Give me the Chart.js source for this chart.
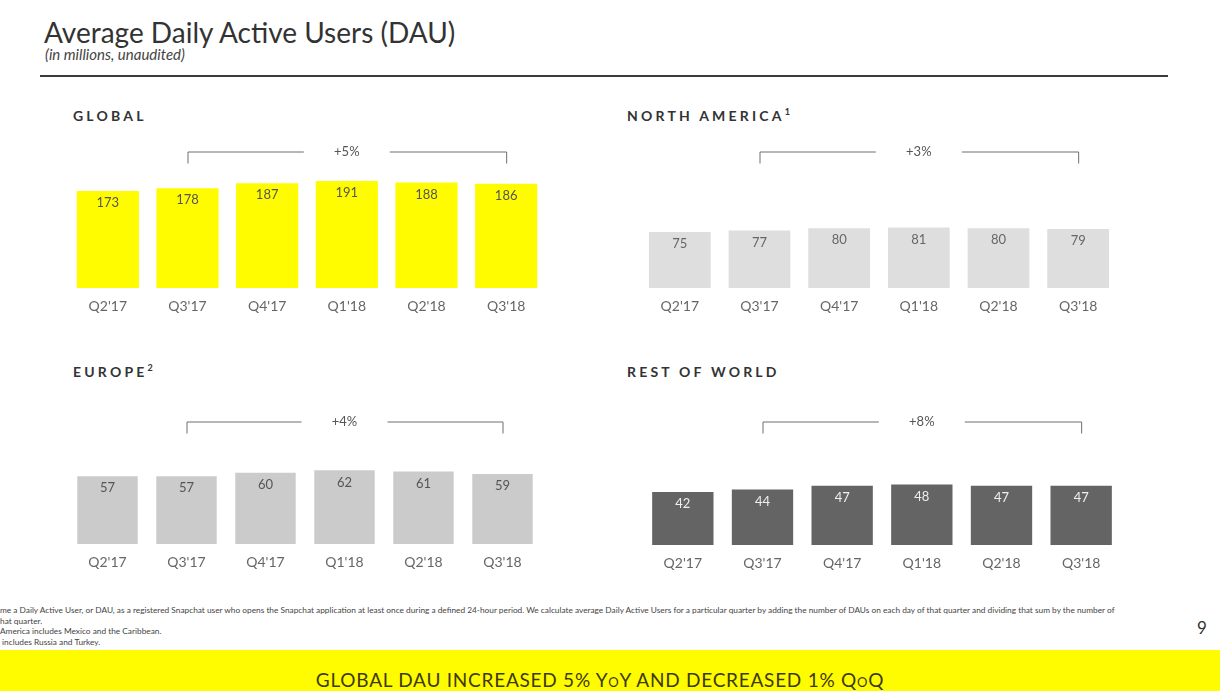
<!DOCTYPE html>
<html>
<head>
<meta charset="utf-8">
<script src="https://cdn.jsdelivr.net/npm/chart.js@4.4.1/dist/chart.umd.min.js"></script>
<style>
  html, body { margin: 0; padding: 0; background: #fff; }
  body { width: 1220px; height: 691px; position: relative; overflow: hidden; font-family: Lato, "Noto Sans", sans-serif; color: #333; }
  .abs { position: absolute; white-space: nowrap; }
  .title { left: 44px; top: 18px; font-size: 28px; line-height: 28px; color: #333; }
  .subtitle { left: 45px; top: 46px; font-size: 15px; line-height: 16px; font-style: italic; color: #444; }
  .rule { left: 40px; top: 75px; width: 1128px; height: 2px; background: #3a3a3a; }
  .section { font-size: 14px; line-height: 16px; font-weight: 700; letter-spacing: 3.2px; color: #333; }
  .section sup { font-size: 9px; letter-spacing: 0; vertical-align: 6px; line-height: 0; }
  .box { position: absolute; }
  .notes { left: 0; top: 605px; font-size: 8.3px; line-height: 10.7px; color: #444; }
  .page { left: 1197px; top: 619px; font-size: 17px; line-height: 18px; color: #333; }
  .banner { left: 0; top: 650px; width: 1220px; height: 41px; background: #FFFC00; }
  .banner span.t { position: absolute; left: 0; width: 1200px; text-align: center; top: 20px; font-size: 19px; line-height: 20px; letter-spacing: 0.75px; color: #3d3a10; }
  .sc { font-variant: small-caps; }
</style>
</head>
<body>
<div class="abs title">Average Daily Active Users (DAU)</div>
<div class="abs subtitle">(in millions, unaudited)</div>
<div class="abs rule"></div>

<div class="abs section" style="left:73px; top:108px;">GLOBAL</div>
<div class="abs section" style="left:627px; top:108px;">NORTH AMERICA<sup>1</sup></div>
<div class="abs section" style="left:73px; top:364px;">EUROPE<sup>2</sup></div>
<div class="abs section" style="left:627px; top:364px;">REST OF WORLD</div>

<div class="box" style="left:68px; top:130px; width:478px; height:188px;"><canvas id="chartGlobal"></canvas></div>
<div class="box" style="left:640px; top:130px; width:478px; height:188px;"><canvas id="chartNA"></canvas></div>
<div class="box" style="left:68px; top:400px; width:474px; height:174px;"><canvas id="chartEurope"></canvas></div>
<div class="box" style="left:643px; top:400px; width:478px; height:175px;"><canvas id="chartRow"></canvas></div>

<div class="abs notes">me a Daily Active User, or DAU, as a registered Snapchat user who opens the Snapchat application at least once during a defined 24-hour period. We calculate average Daily Active Users for a particular quarter by adding the number of DAUs on each day of that quarter and dividing that sum by the number of<br>hat quarter.<br>America includes Mexico and the Caribbean.<br>&nbsp;includes Russia and Turkey.</div>
<div class="abs page">9</div>

<div class="abs banner"><span class="t">GLOBAL DAU INCREASED 5% Y<span class="sc">o</span>Y AND DECREASED 1% Q<span class="sc">o</span>Q</span></div>

<script>
// data
const quarters = ["Q2'17", "Q3'17", "Q4'17", "Q1'18", "Q2'18", "Q3'18"];
const globalDau = [173, 178, 187, 191, 188, 186];
const northAmericaDau = [75, 77, 80, 81, 80, 79];
const europeDau = [57, 57, 60, 62, 61, 59];
const restOfWorldDau = [42, 44, 47, 48, 47, 47];
const yoyChange = ["+5%", "+3%", "+4%", "+8%"];
const bracketFrom = 1; // Q3'17
const bracketTo = 5;   // Q3'18

// values inside the bars + the YoY bracket on top
const barDecor = {
  id: "barDecor",
  afterDatasetsDraw(chart, args, opts) {
    const ctx = chart.ctx;
    const meta = chart.getDatasetMeta(0);
    const values = chart.data.datasets[0].data;
    ctx.save();
    ctx.font = "13px Lato";
    ctx.fillStyle = opts.valueColor;
    ctx.textAlign = "center";
    ctx.textBaseline = "middle";
    meta.data.forEach((bar, i) => {
      ctx.fillText(values[i], bar.x, bar.y + 12);
    });

    // bracket
    const xs = chart.scales.x;
    const x1 = xs.getPixelForValue(bracketFrom);
    const x2 = xs.getPixelForValue(bracketTo);
    const mid = (x1 + x2) / 2;
    const y = chart.chartArea.top + 21.5;
    ctx.strokeStyle = "#6e6e6e";
    ctx.lineWidth = 1;
    ctx.beginPath();
    ctx.moveTo(x1 + 0.5, y + 12);
    ctx.lineTo(x1 + 0.5, y + 0.5);
    ctx.lineTo(mid - 43, y + 0.5);
    ctx.moveTo(mid + 43, y + 0.5);
    ctx.lineTo(x2 + 0.5, y + 0.5);
    ctx.lineTo(x2 + 0.5, y + 12);
    ctx.stroke();
    ctx.fillStyle = "#555";
    ctx.font = "13px Lato";
    ctx.fillText(opts.change, mid, y);
    ctx.restore();
  },
};

function makeChart(id, values, barColor, valueColor, yMax, change, barPct) {
  return new Chart(document.getElementById(id), {
    type: "bar",
    data: {
      labels: quarters,
      datasets: [
        {
          data: values,
          backgroundColor: barColor,
          borderWidth: 0,
          categoryPercentage: 1,
          barPercentage: barPct,
        },
      ],
    },
    options: {
      responsive: true,
      maintainAspectRatio: false,
      animation: false,
      layout: { padding: 0 },
      plugins: {
        legend: { display: false },
        tooltip: { enabled: false },
        barDecor: { valueColor: valueColor, change: change },
      },
      scales: {
        x: {
          grid: { display: false, drawTicks: false },
          border: { display: false },
          ticks: { color: "#666", font: { family: "Lato", size: 14 }, padding: 10 },
          afterFit: (s) => { s.height = 30; },
        },
        y: { display: false, min: 0, max: yMax },
      },
    },
    plugins: [barDecor],
  });
}

makeChart("chartGlobal", globalDau, "#FFFC00", "#555", 281.8, yoyChange[0], 0.78);
makeChart("chartNA", northAmericaDau, "#DEDEDE", "#666", 211.5, yoyChange[1], 0.775);
makeChart("chartEurope", europeDau, "#CBCBCB", "#555", 121.2, yoyChange[2], 0.765);
makeChart("chartRow", restOfWorldDau, "#646464", "#eee", 115.1, yoyChange[3], 0.77);
</script>
</body>
</html>
